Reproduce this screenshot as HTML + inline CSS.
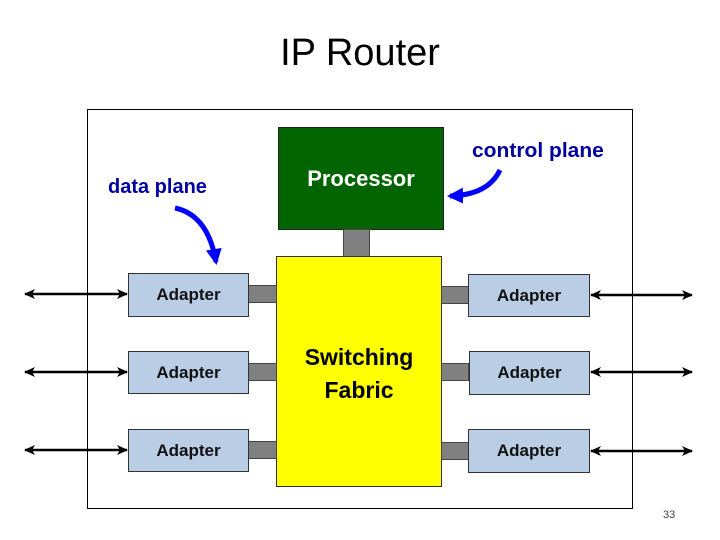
<!DOCTYPE html>
<html><head><style>
body{margin:0;width:720px;height:540px;background:#fff;position:relative;font-family:"Liberation Sans",sans-serif;overflow:hidden}
div{position:absolute;box-sizing:border-box}
.ad{background:#b9cde5;border:1px solid #333;font-weight:bold;font-size:17px;display:flex;align-items:center;justify-content:center;color:#111}
.st{background:#808080;border:1px solid #444}
</style></head><body>
<div style="left:0;top:32px;width:720px;text-align:center;font-size:38px;color:#000">IP Router</div>
<div style="left:87px;top:109px;width:546px;height:400px;border:1px solid #000"></div>
<div style="left:278px;top:127px;width:166px;height:103px;background:#006400;border:1px solid #222;color:#fff;font-weight:bold;font-size:22px;display:flex;align-items:center;justify-content:center;padding-bottom:0px">Processor</div>
<div class="st" style="left:343px;top:229px;width:27px;height:28px"></div>
<div style="left:276px;top:256px;width:166px;height:231px;background:#ff0;border:1px solid #333;font-weight:bold;font-size:23px;text-align:center;padding-top:84px;line-height:33px">Switching<br>Fabric</div>
<div class="st" style="left:248px;top:285px;width:29px;height:18px"></div>
<div class="st" style="left:248px;top:363px;width:29px;height:18px"></div>
<div class="st" style="left:248px;top:441px;width:29px;height:18px"></div>
<div class="st" style="left:441px;top:286px;width:28px;height:18px"></div>
<div class="st" style="left:441px;top:363px;width:28px;height:18px"></div>
<div class="st" style="left:441px;top:442px;width:28px;height:18px"></div>
<div class="ad" style="left:128px;top:273px;width:121px;height:44px">Adapter</div>
<div class="ad" style="left:128px;top:351px;width:121px;height:43px">Adapter</div>
<div class="ad" style="left:128px;top:429px;width:121px;height:43px">Adapter</div>
<div class="ad" style="left:468px;top:274px;width:122px;height:43px">Adapter</div>
<div class="ad" style="left:469px;top:351px;width:121px;height:44px">Adapter</div>
<div class="ad" style="left:468px;top:429px;width:122px;height:44px">Adapter</div>
<div style="left:108px;top:176px;font-size:20px;color:#0000a0;font-weight:bold">data plane</div>
<div style="left:472px;top:140px;font-size:20px;color:#0000a0;font-weight:bold;transform:scaleX(1.05);transform-origin:left">control plane</div>
<div style="left:663px;top:509px;font-size:11px;color:#444">33</div>
<svg style="position:absolute;left:0;top:0" width="720" height="540">
<defs><marker id="a" markerWidth="11" markerHeight="10" refX="10" refY="5" orient="auto-start-reverse" markerUnits="userSpaceOnUse"><path d="M0,0 L11,5 L0,10 L3,5 Z" fill="#000"/></marker>
<marker id="b" markerWidth="16" markerHeight="16" refX="13" refY="8" orient="auto" markerUnits="userSpaceOnUse"><path d="M0,0 L16,8 L0,16 Z" fill="#00f"/></marker></defs>
<g stroke="#000" stroke-width="2.5" marker-start="url(#a)" marker-end="url(#a)">
<line x1="25" y1="294" x2="127" y2="294"/><line x1="25" y1="372" x2="127" y2="372"/><line x1="25" y1="450" x2="127" y2="450"/>
<line x1="591" y1="295" x2="692" y2="295"/><line x1="591" y1="372" x2="692" y2="372"/><line x1="591" y1="451" x2="692" y2="451"/>
</g>
<path d="M175,208 Q208,215 216,262" stroke="#00f" stroke-width="5" fill="none" marker-end="url(#b)"/>
<path d="M500,170 Q488,195 450,196" stroke="#00f" stroke-width="5" fill="none" marker-end="url(#b)"/>
</svg>
</body></html>
